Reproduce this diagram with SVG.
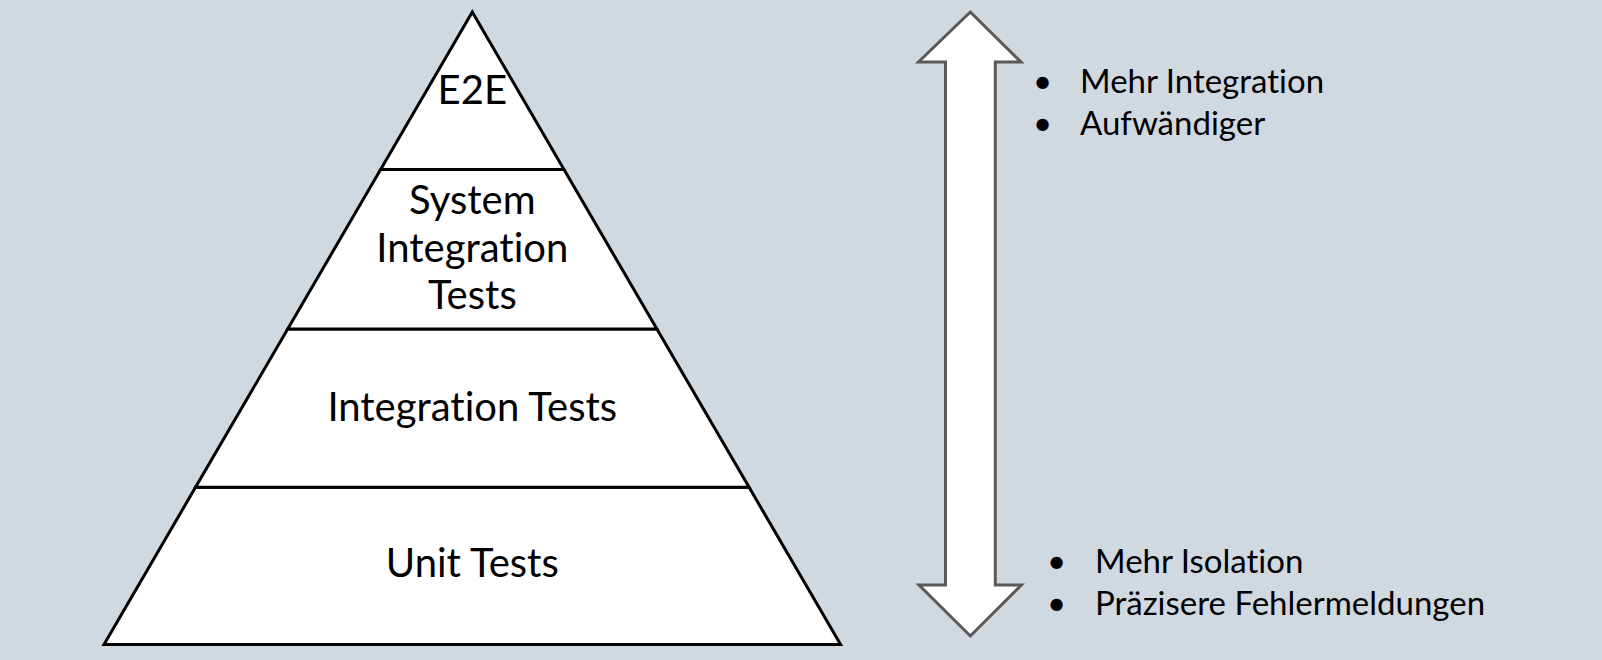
<svg xmlns="http://www.w3.org/2000/svg" width="1602" height="660" viewBox="0 0 1602 660">
<style>
.bg{fill:#D1D9E0}
.layer{fill:#FFFFFF;stroke:#000000;stroke-width:3;stroke-linejoin:miter}
.lbl{font-family:Lato,"Open Sans","Liberation Sans",sans-serif;font-size:40px;fill:#000000;text-anchor:middle;font-variant-ligatures:none}
.note{font-family:Lato,"Open Sans","Liberation Sans",sans-serif;font-size:33px;fill:#000000;font-variant-ligatures:none}
.arrow{fill:#FFFFFF;stroke:#595959;stroke-width:3;stroke-linejoin:miter}
</style>
<rect class="bg" x="0" y="0" width="1602" height="660"/>
<g id="layer-unit">
<polygon class="layer" points="195.5,487.3 749.1,487.3 840.6,644.5 104,644.5"/>
<text class="lbl" x="472.3" y="577">Unit Tests</text>
</g>
<g id="layer-integration">
<polygon class="layer" points="287.7,329 656.9,329 749.1,487.3 195.5,487.3"/>
<text class="lbl" x="472.3" y="421">Integration Tests</text>
</g>
<g id="layer-system">
<polygon class="layer" points="380.6,169.5 564,169.5 656.9,329 287.7,329"/>
<text class="lbl" x="472.3" y="214">System</text>
<text class="lbl" x="472.3" y="262">Integration</text>
<text class="lbl" x="472.3" y="309">Tests</text>
</g>
<g id="layer-e2e">
<polygon class="layer" points="472.3,12 564,169.5 380.6,169.5"/>
<text class="lbl" x="472.3" y="104">E2E</text>
</g>
<g id="connectors">
<polygon class="arrow" points="970.3,12 1021,62 995.3,62 995.3,585 1021.4,585 970.3,636 919,585 945.5,585 945.5,62 918.5,62"/>
</g>
<g id="notes-top">
<text class="note" x="1033" y="93">•</text>
<text class="note" x="1080" y="93">Mehr Integration</text>
<text class="note" x="1033" y="135">•</text>
<text class="note" x="1080" y="135">Aufwändiger</text>
</g>
<g id="notes-bottom">
<text class="note" x="1047" y="573">•</text>
<text class="note" x="1095" y="573">Mehr Isolation</text>
<text class="note" x="1047" y="615">•</text>
<text class="note" x="1095" y="615">Präzisere Fehlermeldungen</text>
</g>
</svg>
